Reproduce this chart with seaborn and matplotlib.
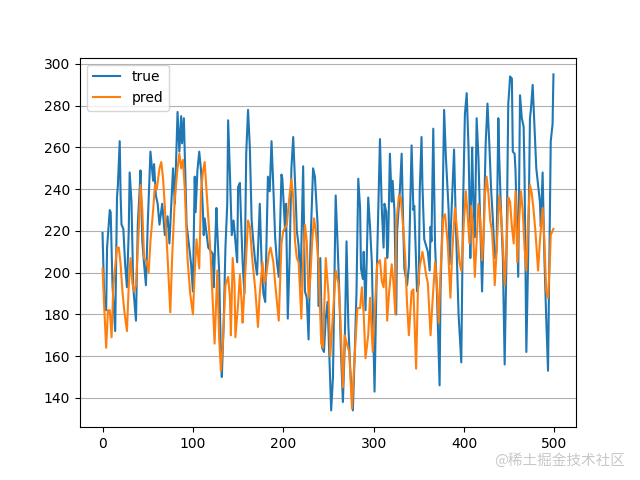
import numpy as np
import pandas as pd
import matplotlib
matplotlib.use("Agg")
import matplotlib.pyplot as plt
import seaborn as sns

# --- data (time step, value) ---
true_x = [0, 2, 4, 5, 8, 9, 11, 14, 16, 17, 19, 20, 21, 23, 25, 27, 29, 30, 32, 34,
          37, 39, 41, 42, 44, 46, 48, 50, 53, 56, 57, 59, 61, 63, 66, 69, 72, 74, 78, 80,
          83, 85, 87, 88, 90, 93, 96, 98, 100, 102, 103, 105, 107, 109, 111, 112, 113, 117, 122, 123,
          126, 127, 129, 131, 132, 134, 136, 138, 139, 141, 143, 145, 147, 149, 150, 152, 153, 155, 157, 159,
          161, 163, 165, 167, 169, 171, 174, 176, 178, 180, 183, 185, 187, 189, 191, 193, 195, 198, 199, 202,
          203, 205, 207, 209, 211, 214, 215, 217, 219, 222, 224, 226, 228, 230, 233, 235, 238, 239, 241, 243,
          245, 247, 249, 251, 253, 255, 258, 260, 262, 264, 266, 268, 270, 272, 274, 277, 279, 281, 283, 285,
          286, 288, 289, 291, 294, 296, 298, 301, 303, 307, 309, 311, 312, 314, 315, 316, 318, 320, 321, 323,
          325, 326, 329, 331, 333, 334, 337, 339, 342, 344, 345, 348, 350, 351, 353, 354, 356, 358, 360, 362,
          363, 364, 366, 368, 370, 373, 374, 376, 378, 380, 383, 384, 386, 389, 391, 394, 397, 399, 401, 403,
          405, 406, 407, 409, 410, 412, 414, 416, 418, 420, 422, 424, 426, 428, 430, 432, 434, 436, 438, 439,
          441, 443, 445, 447, 449, 450, 451, 453, 454, 456, 457, 459, 460, 462, 464, 466, 467, 469, 471, 473,
          474, 476, 478, 480, 482, 484, 485, 487, 489, 491, 493, 494, 496, 498, 499]
true_y = [219, 185, 182, 212, 230, 229, 194, 172, 236, 242, 263, 237, 223, 221, 204, 193, 220, 248, 234, 193,
          177, 223, 239, 249, 215, 204, 194, 223, 258, 244, 252, 237, 233, 223, 233, 218, 227, 214, 250, 233,
          277, 258, 275, 262, 274, 223, 212, 204, 191, 246, 229, 249, 258, 249, 230, 218, 226, 212, 209, 193,
          231, 220, 201, 159, 150, 175, 212, 233, 273, 247, 218, 225, 215, 205, 241, 243, 229, 205, 190, 257,
          278, 260, 225, 214, 205, 199, 233, 205, 190, 186, 246, 239, 263, 241, 217, 205, 198, 247, 245, 220,
          233, 178, 207, 250, 265, 233, 220, 213, 193, 251, 191, 188, 168, 212, 250, 246, 223, 184, 207, 164,
          162, 178, 186, 160, 134, 150, 237, 215, 191, 160, 138, 165, 215, 175, 155, 134, 160, 190, 245, 231,
          202, 197, 210, 182, 236, 222, 205, 143, 191, 264, 231, 212, 233, 229, 207, 213, 257, 234, 244, 230,
          180, 220, 239, 257, 218, 202, 194, 203, 261, 230, 232, 191, 195, 239, 265, 242, 216, 213, 210, 201,
          222, 215, 269, 213, 191, 146, 191, 223, 278, 255, 230, 204, 227, 259, 223, 180, 157, 233, 276, 286,
          260, 237, 207, 260, 241, 217, 274, 255, 223, 191, 223, 262, 281, 262, 240, 225, 207, 210, 274, 255,
          229, 207, 156, 207, 281, 287, 294, 293, 258, 257, 249, 214, 198, 285, 274, 270, 247, 162, 207, 274,
          278, 290, 270, 250, 242, 234, 222, 248, 207, 178, 153, 191, 263, 271, 295]

pred_x = [0, 2, 4, 6, 8, 10, 12, 16, 18, 20, 22, 24, 27, 29, 31, 33, 35, 37, 40, 42,
          44, 46, 49, 51, 53, 56, 58, 60, 63, 65, 67, 69, 72, 75, 77, 80, 83, 85, 87, 89,
          91, 94, 97, 100, 102, 104, 107, 109, 111, 113, 115, 118, 120, 122, 124, 126, 127, 129, 131, 133,
          136, 139, 141, 142, 144, 146, 147, 150, 152, 154, 155, 158, 161, 163, 166, 169, 172, 174, 177, 179,
          181, 184, 186, 189, 191, 195, 198, 200, 204, 206, 209, 211, 213, 215, 217, 220, 222, 224, 226, 228,
          230, 232, 234, 236, 239, 242, 244, 247, 250, 252, 255, 258, 261, 263, 266, 268, 271, 273, 276, 279,
          282, 285, 287, 289, 291, 294, 296, 299, 301, 304, 307, 309, 311, 313, 315, 317, 320, 322, 324, 325,
          328, 330, 333, 335, 337, 339, 342, 344, 347, 349, 351, 354, 356, 358, 360, 363, 365, 368, 370, 372,
          374, 377, 379, 382, 385, 387, 390, 392, 395, 397, 400, 402, 404, 406, 408, 410, 412, 414, 416, 418,
          420, 422, 423, 425, 427, 429, 431, 433, 434, 436, 439, 441, 443, 445, 447, 449, 451, 453, 455, 457,
          459, 461, 463, 465, 467, 469, 471, 473, 475, 477, 479, 482, 484, 487, 489, 491, 493, 495, 496, 499]
pred_y = [202, 182, 164, 182, 182, 169, 194, 212, 212, 204, 191, 182, 172, 194, 207, 195, 191, 194, 220, 242,
          230, 207, 205, 200, 215, 230, 242, 240, 250, 253, 245, 231, 207, 181, 207, 236, 250, 257, 250, 254,
          240, 207, 190, 180, 200, 216, 202, 239, 248, 253, 240, 220, 205, 185, 166, 190, 201, 169, 153, 165,
          194, 198, 188, 170, 207, 195, 169, 185, 199, 185, 176, 200, 225, 222, 205, 192, 174, 190, 205, 195,
          198, 209, 212, 205, 195, 177, 214, 220, 223, 233, 245, 236, 215, 207, 205, 178, 205, 223, 215, 188,
          198, 215, 226, 220, 205, 166, 164, 207, 190, 160, 180, 201, 195, 180, 145, 170, 165, 162, 135, 160,
          183, 183, 193, 180, 159, 170, 188, 162, 180, 204, 206, 196, 193, 207, 177, 190, 204, 195, 180, 223,
          237, 236, 220, 207, 185, 170, 191, 192, 154, 191, 203, 210, 205, 199, 195, 170, 185, 205, 195, 176,
          200, 226, 228, 214, 188, 210, 231, 222, 205, 201, 225, 239, 228, 214, 232, 220, 198, 216, 233, 225,
          206, 220, 237, 246, 238, 225, 220, 205, 194, 210, 237, 228, 214, 194, 212, 236, 234, 222, 214, 239,
          205, 225, 239, 230, 212, 201, 225, 242, 238, 230, 220, 201, 215, 231, 215, 191, 188, 205, 218, 221]

TRUE_COLOR = "#1f77b4"
PRED_COLOR = "#ff7f0e"

fig, ax = plt.subplots(figsize=(6.4, 4.8), dpi=100)

sns.lineplot(x=true_x, y=true_y, ax=ax, color=TRUE_COLOR, label="true",
             estimator=None, linewidth=1.5)
sns.lineplot(x=pred_x, y=pred_y, ax=ax, color=PRED_COLOR, label="pred",
             estimator=None, linewidth=1.5)

ax.grid(axis="y", color="#b0b0b0", linewidth=0.8)
ax.set_axisbelow(True)
ax.set_xticks([0, 100, 200, 300, 400, 500])
ax.legend(loc="upper left")

fig.text(0.977, 0.04, "@稀土掘金技术社区", ha="right", va="center",
         fontsize=10.5, color="#c8c8c8",
         family=["Noto Sans CJK SC", "DejaVu Sans"])

fig.savefig("out.png", dpi=100)
